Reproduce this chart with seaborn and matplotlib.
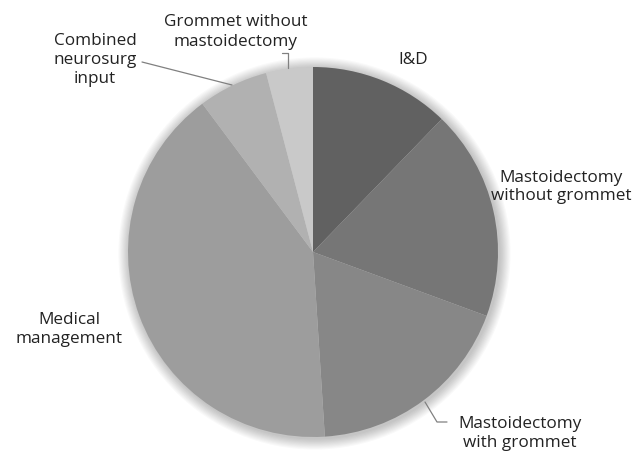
import matplotlib
matplotlib.use("Agg")
import matplotlib.pyplot as plt
import seaborn as sns

# ---- data ----
categories = ["I&D", "Mastoidectomy\nwithout grommet", "Mastoidectomy\nwith grommet",
              "Medical\nmanagement", "Combined\nneurosurg\ninput", "Grommet without\nmastoidectomy"]
counts = [6, 9, 9, 20, 3, 2]
slice_colors = ["#616161", "#767676", "#878787", "#9d9d9d", "#b1b1b1", "#c9c9c9"]

sns.set_theme(style="white")
plt.rcParams['font.family'] = ['Open Sans', 'DejaVu Sans']

W, H = 638, 454
CX, CY, R = 313, 252, 185

fig = plt.figure(figsize=(W / 100, H / 100), dpi=100)
ax = fig.add_axes([0, 0, 1, 1])


def px(x, y):
    return ((x - CX) / R, (CY - y) / R)


# soft halo/shadow around the pie
for i in range(10):
    circ = plt.Circle((0.008, -0.008), 1.0 + 0.006 * (i + 1), color="black",
                      alpha=0.022, lw=0, zorder=0)
    ax.add_patch(circ)

pal = sns.color_palette(slice_colors)
wedges, _ = ax.pie(counts, colors=pal, startangle=90, counterclock=False,
                   radius=1.0, center=(0, 0), wedgeprops=dict(linewidth=0))
for w in wedges:
    w.set_zorder(2)

ax.set_xlim(-CX / R, (W - CX) / R)
ax.set_ylim(-(H - CY) / R, CY / R)
ax.set_aspect("equal")
ax.axis("off")

text_color = "#222222"
fs = 12.3
label_pos = [(413, 60), (561, 187), (520, 434), (69, 330), (95, 60), (236, 32)]
for lab, (lx, ly) in zip(categories, label_pos):
    x, y = px(lx, ly)
    ax.text(x, y, lab, ha="center", va="center", fontsize=fs, color=text_color,
            linespacing=1.25, zorder=5)

leaders = [
    [(142, 62), (232, 85)],
    [(282, 53), (288, 53), (288, 68)],
    [(425, 402), (437, 422), (447, 422)],
]
for pts in leaders:
    xs, ys = zip(*[px(a, b) for a, b in pts])
    ax.plot(xs, ys, color="#808080", lw=0.9, zorder=4)

fig.savefig("out.png", dpi=100, facecolor="white")
